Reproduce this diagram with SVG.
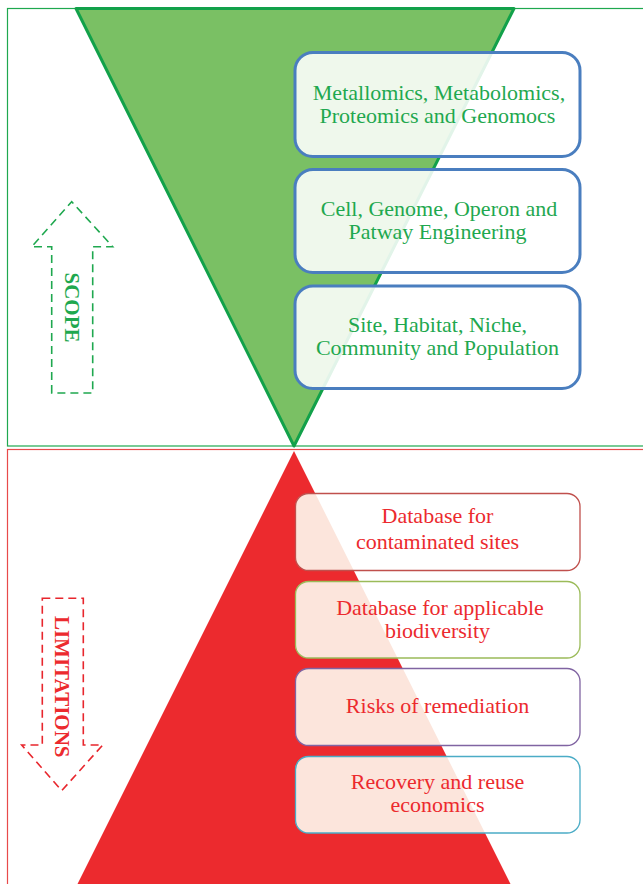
<svg xmlns="http://www.w3.org/2000/svg" width="643" height="884" viewBox="0 0 643 884">
  <style>
    .lbl { font-family: "Liberation Serif", "Times New Roman", serif; font-size: 22px; text-anchor: middle; }
    .g { fill: #1fa84f; }
    .r { fill: #ec2a2e; }
    .scope-box { fill: #ffffff; fill-opacity: 0.88; stroke: #4a7ebf; stroke-width: 3; }
    .lim-bg { fill: #ffffff; }
    .lim-tint { fill: #fce5dc; clip-path: url(#red-clip); }
    .lim-box { fill: none; stroke-width: 1.3; }
    .vert { font-family: "Liberation Serif", "Times New Roman", serif; font-size: 21px; font-weight: bold; text-anchor: middle; }
  </style>
  <defs>
    <clipPath id="red-clip">
      <polygon points="294,451 512,887 76,887"/>
    </clipPath>
  </defs>

  <!-- panels -->
  <g id="scope-panel">
    <rect x="7.5" y="8.5" width="700" height="437.5" fill="#ffffff" stroke="#1fa84f" stroke-width="1.2"/>
    <polygon points="76,8.5 514,8.5 294,446" fill="#7ac064" stroke="#12a14a" stroke-width="3" stroke-linejoin="round"/>
  </g>
  <g id="limitations-panel">
    <rect x="7.5" y="449.5" width="700" height="500" fill="#ffffff" stroke="#e84a4a" stroke-width="1.2"/>
    <polygon points="294,451 512,887 76,887" fill="#ec2a2e"/>
  </g>

  <!-- side arrows -->
  <g id="scope-arrow">
    <path d="M51.7,393 L51.7,246.7 L31.7,246.7 L71.7,201.7 L112.7,246.7 L92.7,246.7 L92.7,393 Z" fill="none" stroke="#1fa84f" stroke-width="1.6" stroke-dasharray="8 5"/>
    <text class="vert g" transform="translate(64.5,307.5) rotate(90)">SCOPE</text>
  </g>
  <g id="limitations-arrow">
    <path d="M42.3,598.3 L83.3,598.3 L83.3,745 L102.7,745 L61.7,790.7 L21.7,745 L42.3,745 Z" fill="none" stroke="#e8262d" stroke-width="1.6" stroke-dasharray="8 5"/>
    <text class="vert r" transform="translate(54.5,686.7) rotate(90)">LIMITATIONS</text>
  </g>

  <!-- scope boxes -->
  <g id="omics">
    <rect class="scope-box" x="295" y="52.5" width="285" height="104" rx="18"/>
    <text class="lbl g" x="439" y="99.5">Metallomics, Metabolomics,</text>
    <text class="lbl g" x="437.5" y="122.5">Proteomics and Genomocs</text>
  </g>
  <g id="engineering">
    <rect class="scope-box" x="295" y="169.5" width="285" height="103" rx="18"/>
    <text class="lbl g" x="439" y="215.5">Cell, Genome, Operon and</text>
    <text class="lbl g" x="437.5" y="239">Patway Engineering</text>
  </g>
  <g id="ecology">
    <rect class="scope-box" x="295" y="286" width="285" height="102.5" rx="18"/>
    <text class="lbl g" x="437.5" y="331.5">Site, Habitat, Niche,</text>
    <text class="lbl g" x="437.5" y="355">Community and Population</text>
  </g>

  <!-- limitation boxes: white card, peach where it lies over the red triangle -->
  <g id="contaminated-sites">
    <rect class="lim-bg" x="295.5" y="493.5" width="284.5" height="77" rx="13"/>
    <rect class="lim-tint" x="295.5" y="493.5" width="284.5" height="77" rx="13"/>
    <rect class="lim-box" x="295.5" y="493.5" width="284.5" height="77" rx="13" stroke="#c0504d"/>
    <text class="lbl r" x="437.5" y="523">Database for</text>
    <text class="lbl r" x="437.5" y="549">contaminated sites</text>
  </g>
  <g id="biodiversity">
    <rect class="lim-bg" x="295.5" y="581.5" width="284.5" height="76.5" rx="13"/>
    <rect class="lim-tint" x="295.5" y="581.5" width="284.5" height="76.5" rx="13"/>
    <rect class="lim-box" x="295.5" y="581.5" width="284.5" height="76.5" rx="13" stroke="#9bbb59"/>
    <text class="lbl r" x="440" y="614.5">Database for applicable</text>
    <text class="lbl r" x="437.5" y="637.5">biodiversity</text>
  </g>
  <g id="risks">
    <rect class="lim-bg" x="295.5" y="668.5" width="284.5" height="77" rx="13"/>
    <rect class="lim-tint" x="295.5" y="668.5" width="284.5" height="77" rx="13"/>
    <rect class="lim-box" x="295.5" y="668.5" width="284.5" height="77" rx="13" stroke="#8064a2"/>
    <text class="lbl r" x="437.5" y="713">Risks of remediation</text>
  </g>
  <g id="economics">
    <rect class="lim-bg" x="295.5" y="756.5" width="284.5" height="76.5" rx="13"/>
    <rect class="lim-tint" x="295.5" y="756.5" width="284.5" height="76.5" rx="13"/>
    <rect class="lim-box" x="295.5" y="756.5" width="284.5" height="76.5" rx="13" stroke="#4bacc6"/>
    <text class="lbl r" x="437.5" y="788.5">Recovery and reuse</text>
    <text class="lbl r" x="437.5" y="812">economics</text>
  </g>

  <!-- no connectors in this figure -->
  <g id="connectors"/>
</svg>
